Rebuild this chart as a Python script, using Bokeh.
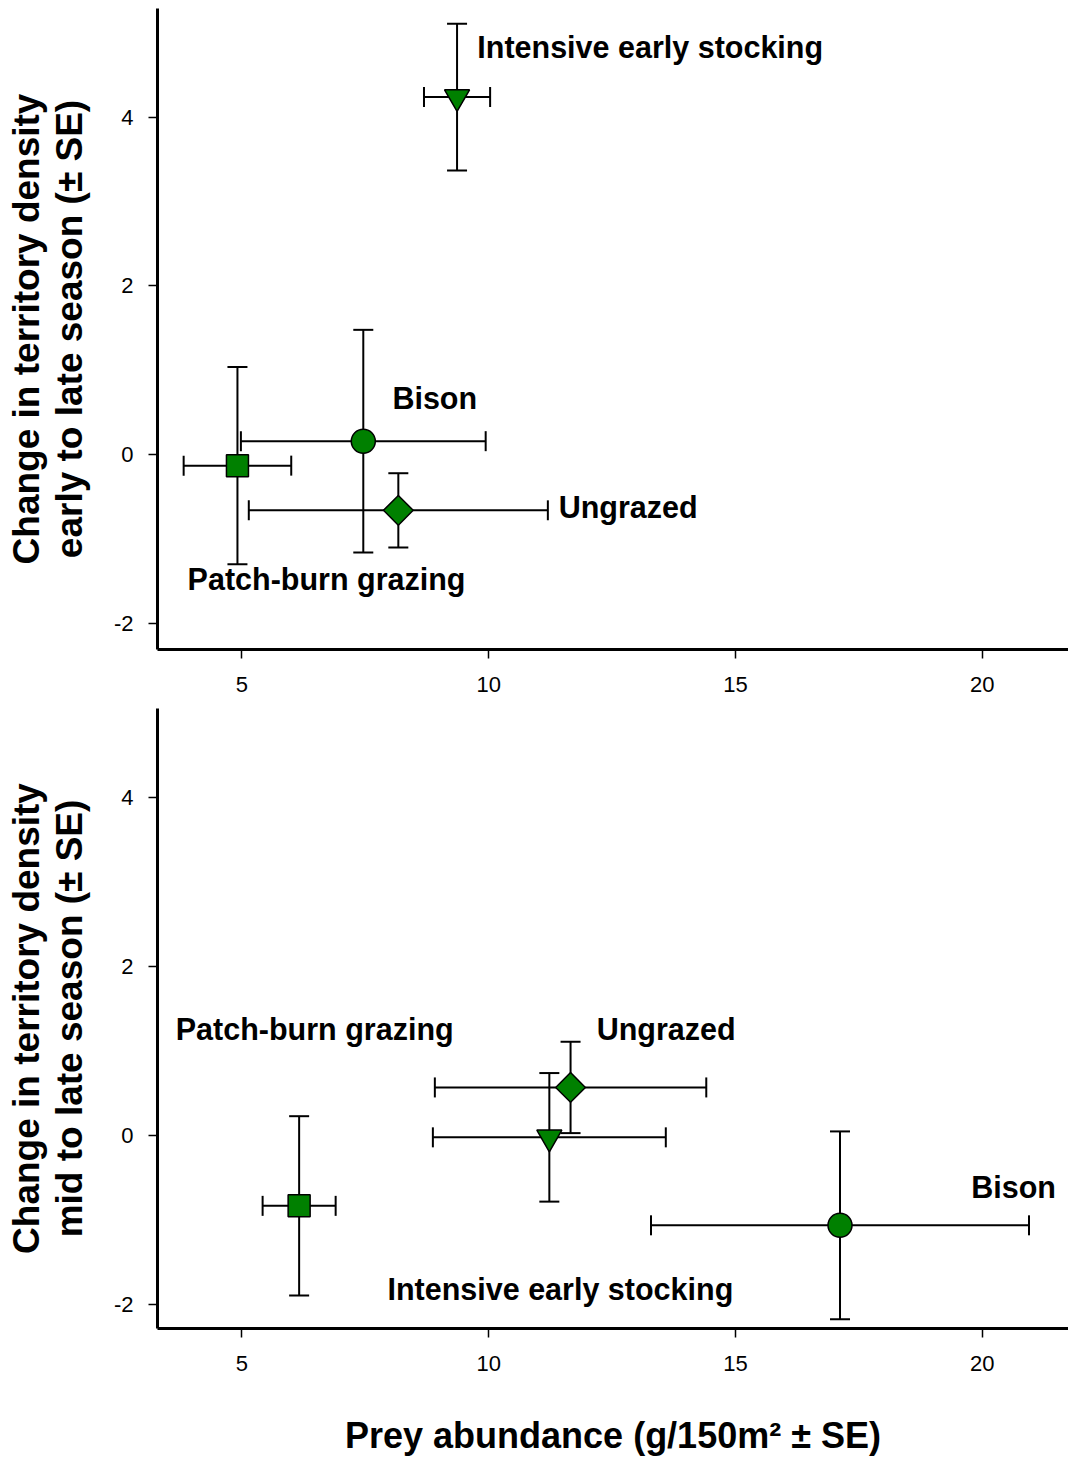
import math
from bokeh.plotting import figure
from bokeh.models import (Range1d, Whisker, TeeHead, ColumnDataSource, Label, FixedTicker,
                          PrintfTickFormatter)
from bokeh.layouts import column
from bokeh.embed import file_html
from bokeh.resources import INLINE

# ---- data ----
groups = ["Patch-burn grazing", "Bison", "Ungrazed", "Intensive early stocking"]

# panel 1: early to late season
early_prey = [4.91, 7.46, 8.17, 9.36]
early_prey_se = [1.09, 2.48, 3.03, 0.67]
early_change = [-0.13, 0.16, -0.66, 4.24]
early_change_se = [1.17, 1.32, 0.44, 0.87]

# panel 2: mid to late season
mid_prey = [6.16, 17.12, 11.66, 11.23]
mid_prey_se = [0.74, 3.83, 2.75, 2.36]
mid_change = [-0.83, -1.06, 0.57, -0.02]
mid_change_se = [1.06, 1.11, 0.54, 0.76]

x_ticks = [5, 10, 15, 20]
y_ticks = [-2, 0, 2, 4]

# label placement (data coords of left end / baseline)
early_label_pos = [(3.90, -1.48), (8.05, 0.67), (11.42, -0.62), (9.77, 4.83)]
mid_label_pos = [(3.66, 1.26), (19.78, -0.61), (12.19, 1.26), (7.95, -1.81)]

# ---- styles ----
marker_styles = [
    dict(marker="square", size=22, angle=0.0),
    dict(marker="circle", size=24, angle=0.0),
    dict(marker="square", size=21, angle=math.pi / 4),
    dict(marker="inverted_triangle", size=25, angle=0.0),
]
GREEN = "#008000"
FONT = "Liberation Sans"


def make_panel(prey, prey_se, change, change_se, label_pos, ylabel, height,
               y_start, y_end, min_top, min_bottom, xlabel=None):
    p = figure(width=1068, height=height, output_backend="svg", toolbar_location=None,
               x_range=Range1d(3.29, 21.75), y_range=Range1d(y_start, y_end),
               min_border_left=157, min_border_right=0, min_border_top=min_top,
               min_border_bottom=min_bottom)
    p.outline_line_color = None
    p.xgrid.visible = False
    p.ygrid.visible = False
    p.background_fill_color = "white"
    p.border_fill_color = "white"

    for ax, ticks in ((p.xaxis[0], x_ticks), (p.yaxis[0], y_ticks)):
        ax.ticker = FixedTicker(ticks=ticks)
        ax.formatter = PrintfTickFormatter(format="%d")
        ax.axis_line_width = 3
        ax.axis_line_color = "black"
        ax.major_tick_line_width = 1.5
        ax.major_tick_line_color = "black"
        ax.major_tick_out = 9
        ax.major_tick_in = 0
        ax.minor_tick_line_color = None
        ax.major_label_text_font = FONT
        ax.major_label_text_font_size = "22px"
        ax.major_label_text_color = "black"
        ax.axis_label_text_font = FONT
        ax.axis_label_text_font_style = "bold"
        ax.axis_label_text_color = "black"
        ax.axis_label_text_line_height = 1.05

    p.xaxis.major_label_standoff = 18
    p.yaxis.major_label_standoff = 15
    p.yaxis.major_label_orientation = "horizontal"
    p.yaxis.axis_label = ylabel
    p.yaxis.axis_label_text_font_size = "37px"
    p.yaxis.axis_label_standoff = 21
    if xlabel:
        p.xaxis.axis_label = xlabel
        p.xaxis.axis_label_text_font_size = "36px"
        p.xaxis.axis_label_standoff = 41

    src = ColumnDataSource(dict(
        x=prey, y=change,
        xlo=[a - b for a, b in zip(prey, prey_se)],
        xhi=[a + b for a, b in zip(prey, prey_se)],
        ylo=[a - b for a, b in zip(change, change_se)],
        yhi=[a + b for a, b in zip(change, change_se)],
    ))

    def head():
        return TeeHead(size=20, line_width=2, line_color="black")

    p.add_layout(Whisker(source=src, base="x", lower="ylo", upper="yhi", dimension="height",
                         line_width=2, line_color="black",
                         lower_head=head(), upper_head=head()))
    p.add_layout(Whisker(source=src, base="y", lower="xlo", upper="xhi", dimension="width",
                         line_width=2, line_color="black",
                         lower_head=head(), upper_head=head()))

    for i, st in enumerate(marker_styles):
        p.scatter(x=[prey[i]], y=[change[i]], marker=st["marker"], size=st["size"],
                  angle=st["angle"], fill_color=GREEN, line_color="black", line_width=1.5)

    for name, (lx, ly) in zip(groups, label_pos):
        p.add_layout(Label(x=lx, y=ly, text=name, text_font=FONT, text_font_style="bold",
                           text_font_size="30.5px", text_color="black",
                           text_align="left", text_baseline="alphabetic"))
    return p


p1 = make_panel(early_prey, early_prey_se, early_change, early_change_se, early_label_pos,
                "Change in territory density\nearly to late season (± SE)", 708,
                -2.31, 5.29, 8, 59)
p2 = make_panel(mid_prey, mid_prey_se, mid_change, mid_change_se, mid_label_pos,
                "Change in territory density\nmid to late season (± SE)", 750,
                -2.28, 5.05, 0, 130, xlabel="Prey abundance (g/150m² ± SE)")

layout = column(p1, p2, spacing=0)
open("out.html", "w").write(file_html(layout, INLINE))
